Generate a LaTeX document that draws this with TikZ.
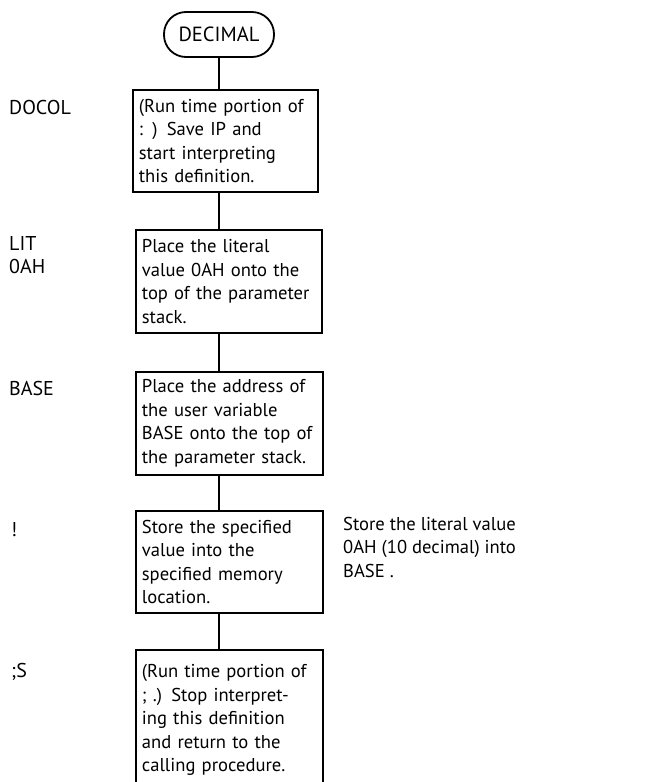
\documentclass[tikz,border=0pt]{standalone}
\usepackage{fontspec}
\setmainfont{PT Sans}
\begin{document}
\begin{tikzpicture}[x=1pt,y=-1pt,
  every node/.style={font=\fontsize{18.6}{23.5}\selectfont},
  box/.style={draw,line width=1.8pt,anchor=north west,align=left,inner xsep=6pt,inner ysep=0pt},
  lbl/.style={anchor=west,inner sep=0pt,font=\fontsize{20}{23.5}\selectfont},
  conn/.style={line width=1.8pt}]
\useasboundingbox (0,0) rectangle (657,782);
\begin{scope}
\clip (0,0) rectangle (657,782);
\node[draw,line width=1.8pt,rounded corners=22pt,minimum width=110pt,minimum height=45pt,inner sep=0pt,font=\fontsize{20.5}{23.5}\selectfont] (t) at (219,34.5) {DECIMAL};
\node[box,text width=173pt,minimum height=102pt] (b1) at (132,89) {(Run time portion of\\: ) Save IP and\\start interpreting\\this definition.};
\node[box,text width=174pt,minimum height=103pt] (b2) at (135,229) {Place the literal\\value 0AH onto the\\top of the parameter\\stack.};
\node[box,text width=175pt,minimum height=103pt] (b3) at (135,371) {Place the address of\\the user variable\\BASE onto the top of\\the parameter stack.};
\node[box,text width=175pt,minimum height=102pt] (b4) at (135,510) {Store the specified\\value into the\\specified memory\\location.};
\node[box,text width=175pt,minimum height=140pt] (b5) at (135,649) {(Run time portion of\\; .) Stop interpret-\\ing this definition\\and return to the\\calling procedure.};
\end{scope}
\draw[conn] (t.south) -- (t.south |- b1.north);
\draw[conn] (b1.south -| t.south) -- (b2.north -| t.south);
\draw[conn] (b2.south -| t.south) -- (b3.north -| t.south);
\draw[conn] (b3.south -| t.south) -- (b4.north -| t.south);
\draw[conn] (b4.south -| t.south) -- (b5.north -| t.south);
\node[lbl] (l1) at (9,107) {DOCOL};
\node[lbl,align=left,anchor=north west] (l2) at (9,236) {LIT\\0AH};
\node[lbl] (l3) at (9,388) {BASE};
\node[lbl] (l4) at (11,530) {!};
\node[lbl] (l5) at (11,672) {;S};
\node[lbl,align=left,anchor=north west,font=\fontsize{18.6}{23.5}\selectfont] (n1) at (343,517) {Store the literal value\\0AH (10 decimal) into\\BASE .};
\end{tikzpicture}
\end{document}
